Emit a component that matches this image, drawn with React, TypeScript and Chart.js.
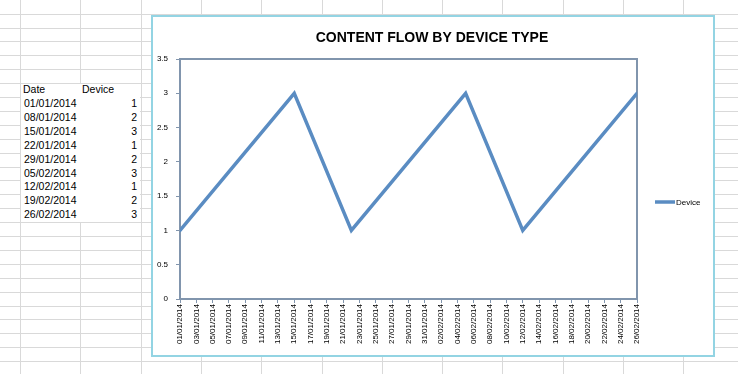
import React, { useEffect, useRef } from "react";
import { Chart, registerables } from "chart.js";

Chart.register(...registerables);

const TITLE = "CONTENT FLOW BY DEVICE TYPE";
const SERIES_NAME = "Device";
const TABLE_HEADERS = ["Date", "Device"];
const dates = [
  "01/01/2014",
  "08/01/2014",
  "15/01/2014",
  "22/01/2014",
  "29/01/2014",
  "05/02/2014",
  "12/02/2014",
  "19/02/2014",
  "26/02/2014",
];
const devices = [1, 2, 3, 1, 2, 3, 1, 2, 3];
const Y_MIN = 0;
const Y_MAX = 3.5;
const Y_STEP = 0.5;
const X_TICK_STEP_DAYS = 2;

const DAY = 86400000;
const parseDMY = (s: string) => {
  const [d, m, y] = s.split("/").map(Number);
  return Date.UTC(y, m - 1, d);
};
const t0 = parseDMY(dates[0]);
const tEnd = parseDMY(dates[dates.length - 1]);
const pad2 = (n: number) => (n < 10 ? "0" + n : "" + n);
const fmtDMY = (t: number) => {
  const dt = new Date(t);
  return pad2(dt.getUTCDate()) + "/" + pad2(dt.getUTCMonth() + 1) + "/" + dt.getUTCFullYear();
};

const LINE_COLOR = "#5a8cc2";
const AXIS_COLOR = "#8195ad";
const GRID_COLOR = "#d9d9d9";
const FONT = "'Liberation Sans', Arial, sans-serif";

const COL_LINES = Array.from({ length: 12 }, (_, i) => Math.round(20 + i * 60.3));
const ROW_LINES = Array.from({ length: 27 }, (_, i) => Math.round(13.6 + i * 13.9));
const rowTop = (k: number) => 13.6 + k * 13.9;

const CANVAS_W = 560;
const CANVAS_H = 338;

export default function App() {
  const ref = useRef<HTMLCanvasElement | null>(null);

  useEffect(() => {
    if (!ref.current) return;
    const boxPlugin = {
      id: "boxPlugin",
      beforeDatasetsDraw(chart: any) {
        const { ctx, chartArea } = chart;
        ctx.save();
        ctx.strokeStyle = AXIS_COLOR;
        ctx.lineWidth = 2;
        ctx.strokeRect(chartArea.left, chartArea.top, chartArea.right - chartArea.left, chartArea.bottom - chartArea.top);
        ctx.restore();
      },
      afterDraw(chart: any) {
        const { ctx } = chart;
        ctx.save();
        ctx.fillStyle = "#000";
        ctx.font = "bold 14px " + FONT;
        ctx.textAlign = "center";
        ctx.textBaseline = "middle";
        ctx.fillText(TITLE, 279, 21);
        // legend
        const ly = 185;
        ctx.strokeStyle = LINE_COLOR;
        ctx.lineWidth = 3.5;
        ctx.beginPath();
        ctx.moveTo(502, ly);
        ctx.lineTo(522, ly);
        ctx.stroke();
        ctx.font = "8px " + FONT;
        ctx.textAlign = "left";
        ctx.fillStyle = "#000";
        ctx.fillText(SERIES_NAME, 523, ly + 1);
        ctx.restore();
      },
    };

    const chart = new Chart(ref.current, {
      type: "line",
      data: {
        datasets: [
          {
            label: SERIES_NAME,
            data: dates.map((d, i) => ({ x: (parseDMY(d) - t0) / DAY, y: devices[i] })),
            borderColor: LINE_COLOR,
            backgroundColor: LINE_COLOR,
            borderWidth: 3.5,
            pointRadius: 0,
            tension: 0,
            borderCapStyle: "round",
            borderJoinStyle: "miter",
          },
        ],
      },
      options: {
        animation: false,
        responsive: false,
        layout: { padding: { left: 0, right: 76, top: 42, bottom: 0 } },
        plugins: { legend: { display: false }, title: { display: false }, tooltip: { enabled: false } },
        scales: {
          x: {
            type: "linear",
            min: 0,
            max: (tEnd - t0) / DAY,
            afterFit: (s: any) => {
              s.height = 56;
            },
            ticks: {
              stepSize: X_TICK_STEP_DAYS,
              autoSkip: false,
              minRotation: 90,
              maxRotation: 90,
              padding: 1,
              color: "#000",
              font: { family: FONT, size: 8 },
              callback: (v: any) => fmtDMY(t0 + Number(v) * DAY),
            },
            grid: { display: true, drawOnChartArea: false, drawTicks: true, tickLength: 4, color: AXIS_COLOR },
            border: { display: false },
          },
          y: {
            min: Y_MIN,
            max: Y_MAX,
            afterFit: (s: any) => {
              s.width = 27;
            },
            ticks: {
              stepSize: Y_STEP,
              padding: 8,
              color: "#000",
              font: { family: FONT, size: 8 },
              callback: (v: any) => String(v),
            },
            grid: { display: true, drawOnChartArea: false, drawTicks: true, tickLength: 4, color: AXIS_COLOR },
            border: { display: false },
          },
        },
      },
      plugins: [boxPlugin],
    } as any);
    return () => chart.destroy();
  }, []);

  const cellFont: React.CSSProperties = {
    position: "absolute",
    fontFamily: FONT,
    fontSize: "10.5px",
    lineHeight: "13.9px",
    height: "13.9px",
    color: "#000",
    whiteSpace: "nowrap",
  };

  const tableTop = Math.round(rowTop(5)) + 1;
  const tableBottom = Math.round(rowTop(5 + dates.length + 1));

  return (
    <div
      style={{
        position: "absolute",
        left: 0,
        top: 0,
        width: 738,
        height: 374,
        overflow: "hidden",
        background: "#fff",
      }}
    >
      {COL_LINES.map((x) => (
        <div key={"c" + x} style={{ position: "absolute", left: x, top: 0, width: 1, height: 374, background: GRID_COLOR }} />
      ))}
      {ROW_LINES.map((y) => (
        <div key={"r" + y} style={{ position: "absolute", left: 0, top: y, width: 738, height: 1, background: GRID_COLOR }} />
      ))}
      <div
        style={{
          position: "absolute",
          left: 21,
          top: tableTop,
          width: 119,
          height: tableBottom - tableTop,
          background: "#fff",
        }}
      />
      <div style={{ ...cellFont, left: 23, top: rowTop(5) }}>{TABLE_HEADERS[0]}</div>
      <div style={{ ...cellFont, left: 82, top: rowTop(5) }}>{TABLE_HEADERS[1]}</div>
      {dates.map((d, i) => (
        <React.Fragment key={d}>
          <div style={{ ...cellFont, left: 24, top: rowTop(6 + i) }}>{d}</div>
          <div style={{ ...cellFont, left: 80, width: 57, textAlign: "right", top: rowTop(6 + i) }}>{devices[i]}</div>
        </React.Fragment>
      ))}
      <div
        style={{
          position: "absolute",
          left: 151,
          top: 15,
          width: CANVAS_W,
          height: CANVAS_H,
          border: "2px solid #93d4e3",
          background: "#fff",
        }}
      >
        <canvas ref={ref} width={CANVAS_W} height={CANVAS_H} style={{ display: "block" }} />
      </div>
    </div>
  );
}
